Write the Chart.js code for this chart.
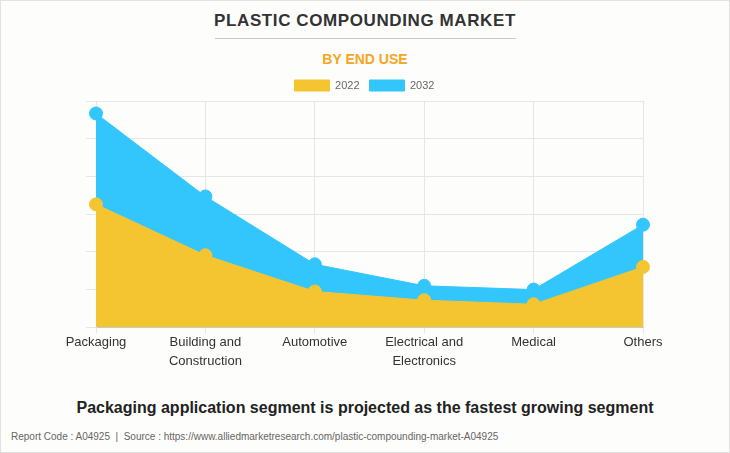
<!DOCTYPE html>
<html>
<head>
<meta charset="utf-8">
<script src="https://cdn.jsdelivr.net/npm/chart.js@4.4.0/dist/chart.umd.min.js"></script>
<style>
  html, body { margin: 0; padding: 0; background: #fff; }
  #wrap { position: relative; width: 728px; height: 451px; border: 1px solid #e2e2e2; background: #fdfdfb; font-family: "Liberation Sans", Arial, sans-serif; overflow: hidden; }
  #title { position: absolute; top: 10px; left: 0; width: 100%; text-align: center; font-weight: bold; font-size: 17px; letter-spacing: 0.6px; color: #333; }
  #rule { position: absolute; top: 37px; left: 214px; width: 301px; height: 1px; background: #c8c8c8; }
  #sub { position: absolute; top: 50px; left: 0; width: 100%; text-align: center; font-weight: bold; font-size: 14px; color: #f5a623; }
  #cv { position: absolute; left: 0; top: 69px; }
  #note { position: absolute; top: 398px; left: 0; width: 100%; text-align: center; font-weight: bold; font-size: 16px; color: #222; }
  #src { position: absolute; top: 430px; left: 10px; font-size: 10px; color: #666; }
</style>
</head>
<body>
<div id="wrap">
  <div id="title">PLASTIC COMPOUNDING MARKET</div>
  <div id="rule"></div>
  <div id="sub">BY END USE</div>
  <canvas id="cv" width="730" height="301"></canvas>
  <div id="note">Packaging application segment is projected as the fastest growing segment</div>
  <div id="src">Report Code : A04925 &nbsp;|&nbsp; Source : https://www.alliedmarketresearch.com/plastic-compounding-market-A04925</div>
</div>
<script>
const categories = [["Packaging"], ["Building and", "Construction"], ["Automotive"], ["Electrical and", "Electronics"], ["Medical"], ["Others"]];
const values2022 = [3.26, 1.91, 0.95, 0.72, 0.61, 1.60];
const values2032 = [5.67, 3.47, 1.67, 1.10, 1.00, 2.72];
const seriesNames = ["2022", "2032"];

const yellow = "#f4c531";
const blue = "#33c6fd";

new Chart(document.getElementById("cv"), {
  type: "line",
  data: {
    labels: categories,
    datasets: [
      { label: seriesNames[0], data: values2022, backgroundColor: yellow, borderColor: yellow, fill: "origin", pointRadius: 6.5, pointBackgroundColor: yellow, pointBorderColor: yellow, borderWidth: 1, tension: 0 },
      { label: seriesNames[1], data: values2032, backgroundColor: blue, borderColor: blue, fill: "origin", pointRadius: 6.5, pointBackgroundColor: blue, pointBorderColor: blue, borderWidth: 1, tension: 0 }
    ]
  },
  options: {
    responsive: false,
    animation: false,
    layout: { padding: { left: 85, right: 88, top: 0, bottom: 0 } },
    plugins: {
      legend: {
        position: "top",
        labels: { boxWidth: 35, boxHeight: 11, color: "#666", font: { family: "Liberation Sans", size: 11 }, padding: 10 }
      },
      tooltip: { enabled: false }
    },
    scales: {
      x: {
        offset: false,
        grid: { color: "#e6e6e6", tickLength: 6 },
        border: { color: "#cccccc" },
        ticks: { color: "#333", font: { family: "Liberation Sans", size: 13, lineHeight: 1.45 }, maxRotation: 0, autoSkip: false, padding: 0 }
      },
      y: {
        min: 0, max: 6,
        ticks: { stepSize: 1, display: false },
        grid: { color: "#e6e6e6", tickLength: 10 },
        border: { color: "#e6e6e6" }
      }
    }
  }
});
</script>
</body>
</html>
